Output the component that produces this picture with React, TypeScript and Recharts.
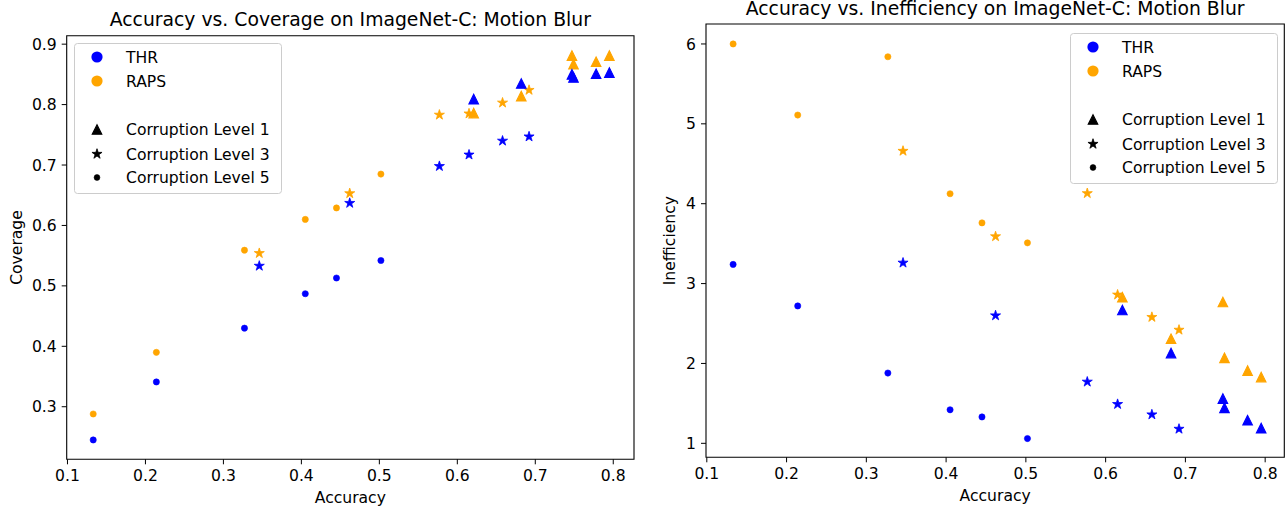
import React from 'react';
import { ScatterChart, Scatter, XAxis, YAxis, ReferenceArea, Legend } from 'recharts';

const FONT = '"DejaVu Sans", sans-serif';
const BLUE = '#0000ff';
const ORANGE = '#ffa500';

// accuracy of the six models at each corruption level
const accL1 = [0.621, 0.682, 0.747, 0.749, 0.778, 0.795];
const accL3 = [0.346, 0.462, 0.577, 0.615, 0.658, 0.692];
const accL5 = [0.133, 0.214, 0.327, 0.405, 0.445, 0.502];

// coverage
const thrCovL1 = [0.809, 0.835, 0.85, 0.845, 0.851, 0.853];
const rapsCovL1 = [0.786, 0.814, 0.881, 0.867, 0.871, 0.881];
const thrCovL3 = [0.533, 0.637, 0.698, 0.717, 0.74, 0.747];
const rapsCovL3 = [0.554, 0.653, 0.783, 0.785, 0.803, 0.824];
const thrCovL5 = [0.245, 0.341, 0.43, 0.487, 0.513, 0.542];
const rapsCovL5 = [0.288, 0.39, 0.559, 0.61, 0.629, 0.685];

// inefficiency (set size)
const thrIneffL1 = [2.67, 2.13, 1.56, 1.445, 1.29, 1.19];
const rapsIneffL1 = [2.83, 2.31, 2.77, 2.07, 1.91, 1.83];
const thrIneffL3 = [3.26, 2.6, 1.77, 1.49, 1.36, 1.18];
const rapsIneffL3 = [4.66, 3.59, 4.13, 2.86, 2.58, 2.42];
const thrIneffL5 = [3.24, 2.72, 1.88, 1.42, 1.33, 1.06];
const rapsIneffL5 = [6.0, 5.11, 5.84, 4.125, 3.76, 3.51];

const accTicks = [0.1, 0.2, 0.3, 0.4, 0.5, 0.6, 0.7, 0.8];
const covTicks = [0.3, 0.4, 0.5, 0.6, 0.7, 0.8, 0.9];
const ineffTicks = [1, 2, 3, 4, 5, 6];

const methods = ['THR', 'RAPS'];
const methodColors = [BLUE, ORANGE];
const levels = ['Corruption Level 1', 'Corruption Level 3', 'Corruption Level 5'];

const pts = (xs: number[], ys: number[]) => xs.map((x, i) => ({ x, y: ys[i] }));

const starPath = (cx: number, cy: number, R: number) => {
  let d = '';
  for (let i = 0; i < 10; i++) {
    const r = i % 2 === 0 ? R : R * 0.382;
    const a = -Math.PI / 2 + (i * Math.PI) / 5;
    d += (i === 0 ? 'M' : 'L') + (cx + r * Math.cos(a)).toFixed(2) + ',' + (cy + r * Math.sin(a)).toFixed(2);
  }
  return d + 'Z';
};

const Marker = ({ kind, cx, cy, color, big }: any) => {
  if (kind === 'tri') {
    const h = 4.8;
    return <path d={`M${cx},${cy - h}L${cx - h},${cy + h}L${cx + h},${cy + h}Z`} fill={color} stroke={color} strokeWidth={1.1} />;
  }
  if (kind === 'star') {
    return <path d={starPath(cx, cy, 5.3)} fill={color} stroke={color} strokeWidth={0.8} />;
  }
  if (kind === 'circle') {
    return <circle cx={cx} cy={cy} r={5.6} fill={color} />;
  }
  return <circle cx={cx} cy={cy} r={big ? 2.9 : 3.1} fill={color} stroke={color} strokeWidth={0.6} />;
};

const shapeOf = (kind: string, color: string) => (p: any) => <Marker kind={kind} cx={p.cx} cy={p.cy} color={color} />;

const LegendBox = () => {
  const rows = [14, 38, 86.5, 111, 134.5];
  return (
    <svg width={208} height={151} style={{ display: 'block' }}>
      <rect x={0.5} y={0.5} width={207} height={150} rx={3} fill="#fff" fillOpacity={0.8} stroke="#cccccc" />
      {methods.map((m, i) => (
        <g key={m}>
          <Marker kind="circle" cx={23} cy={rows[i]} color={methodColors[i]} />
          <text x={52} y={rows[i]} dy="0.36em" fontSize={15.6} fontFamily={FONT} fill="#000">{m}</text>
        </g>
      ))}
      {levels.map((l, i) => (
        <g key={l}>
          <Marker kind={['tri', 'star', 'dot'][i]} cx={23} cy={rows[i + 2]} color="#000" big />
          <text x={52} y={rows[i + 2]} dy="0.36em" fontSize={15.6} fontFamily={FONT} fill="#000">{l}</text>
        </g>
      ))}
    </svg>
  );
};

const Panel = ({ left, width, margin, yAxisW, xDomain, yDomain, yTicks, yFmt, yLabel, yLabelX, series, legendPos, title, titleTop }: any) => {
  const tickStyle = { fill: '#000', fontSize: 15.6, fontFamily: FONT };
  return (
    <div style={{ position: 'absolute', left, top: 0, width, height: 511 }}>
      <ScatterChart width={width} height={511} margin={margin}>
        <XAxis
          type="number"
          dataKey="x"
          domain={xDomain}
          ticks={accTicks}
          allowDataOverflow
          tickFormatter={(v: number) => v.toFixed(1)}
          tick={tickStyle}
          stroke="#000"
          axisLine={false}
          tickSize={5}
          tickMargin={6}
          height={44}
          label={{ value: 'Accuracy', position: 'insideBottom', offset: 0, fill: '#000', fontSize: 15.6, fontFamily: FONT }}
        />
        <YAxis
          type="number"
          dataKey="y"
          domain={yDomain}
          ticks={yTicks}
          allowDataOverflow
          tickFormatter={yFmt}
          tick={tickStyle}
          stroke="#000"
          axisLine={false}
          tickSize={5}
          tickMargin={5}
          width={yAxisW}
          label={{
            content: ({ viewBox }: any) => {
              const cy = viewBox.y + viewBox.height / 2;
              return (
                <text x={yLabelX} y={cy} dy="0.36em" textAnchor="middle" transform={`rotate(-90 ${yLabelX} ${cy})`} fontSize={15.6} fontFamily={FONT} fill="#000">
                  {yLabel}
                </text>
              );
            },
          }}
        />
        <ReferenceArea x1={xDomain[0]} x2={xDomain[1]} y1={yDomain[0]} y2={yDomain[1]} fill="none" stroke="#000" strokeWidth={1.1} ifOverflow="visible" />
        {series.map((s: any, i: number) => (
          <Scatter key={i} data={s.data} shape={shapeOf(s.kind, s.color)} isAnimationActive={false} />
        ))}
        <Legend content={() => <LegendBox />} layout="horizontal" verticalAlign="middle" wrapperStyle={{ left: legendPos[0], top: legendPos[1], width: 208, height: 151 }} />
      </ScatterChart>
      <div
        style={{
          position: 'absolute',
          left: margin.left + yAxisW,
          width: width - margin.left - yAxisW - margin.right,
          top: titleTop,
          textAlign: 'center',
          fontFamily: FONT,
          fontSize: 18.8,
          lineHeight: '19px',
          color: '#000',
          whiteSpace: 'nowrap',
        }}
      >
        {title}
      </div>
    </div>
  );
};

export default function App() {
  const covSeries = [
    { data: pts(accL5, rapsCovL5), kind: 'dot', color: ORANGE },
    { data: pts(accL3, rapsCovL3), kind: 'star', color: ORANGE },
    { data: pts(accL1, rapsCovL1), kind: 'tri', color: ORANGE },
    { data: pts(accL5, thrCovL5), kind: 'dot', color: BLUE },
    { data: pts(accL3, thrCovL3), kind: 'star', color: BLUE },
    { data: pts(accL1, thrCovL1), kind: 'tri', color: BLUE },
  ];
  const ineffSeries = [
    { data: pts(accL5, rapsIneffL5), kind: 'dot', color: ORANGE },
    { data: pts(accL3, rapsIneffL3), kind: 'star', color: ORANGE },
    { data: pts(accL1, rapsIneffL1), kind: 'tri', color: ORANGE },
    { data: pts(accL5, thrIneffL5), kind: 'dot', color: BLUE },
    { data: pts(accL3, thrIneffL3), kind: 'star', color: BLUE },
    { data: pts(accL1, thrIneffL1), kind: 'tri', color: BLUE },
  ];
  return (
    <div style={{ position: 'absolute', left: 0, top: 0, width: 1286, height: 511, background: '#fff', overflow: 'hidden' }}>
      <Panel
        left={0}
        width={640}
        margin={{ top: 35.7, right: 6, bottom: 7.7, left: 0 }}
        yAxisW={66.7}
        xDomain={[0.099, 0.8266]}
        yDomain={[0.213, 0.914]}
        yTicks={covTicks}
        yFmt={(v: number) => v.toFixed(1)}
        yLabel="Coverage"
        yLabelX={16}
        series={covSeries}
        legendPos={[74.3, 43]}
        title="Accuracy vs. Coverage on ImageNet-C: Motion Blur"
        titleTop={10}
      />
      <Panel
        left={640}
        width={646}
        margin={{ top: 24, right: 1.7, bottom: 9.7, left: 0 }}
        yAxisW={66}
        xDomain={[0.099, 0.824]}
        yDomain={[0.825, 6.25]}
        yTicks={ineffTicks}
        yFmt={(v: number) => String(v)}
        yLabel="Inefficiency"
        yLabelX={29}
        series={ineffSeries}
        legendPos={[430, 33]}
        title="Accuracy vs. Inefficiency on ImageNet-C: Motion Blur"
        titleTop={-1.5}
      />
    </div>
  );
}
